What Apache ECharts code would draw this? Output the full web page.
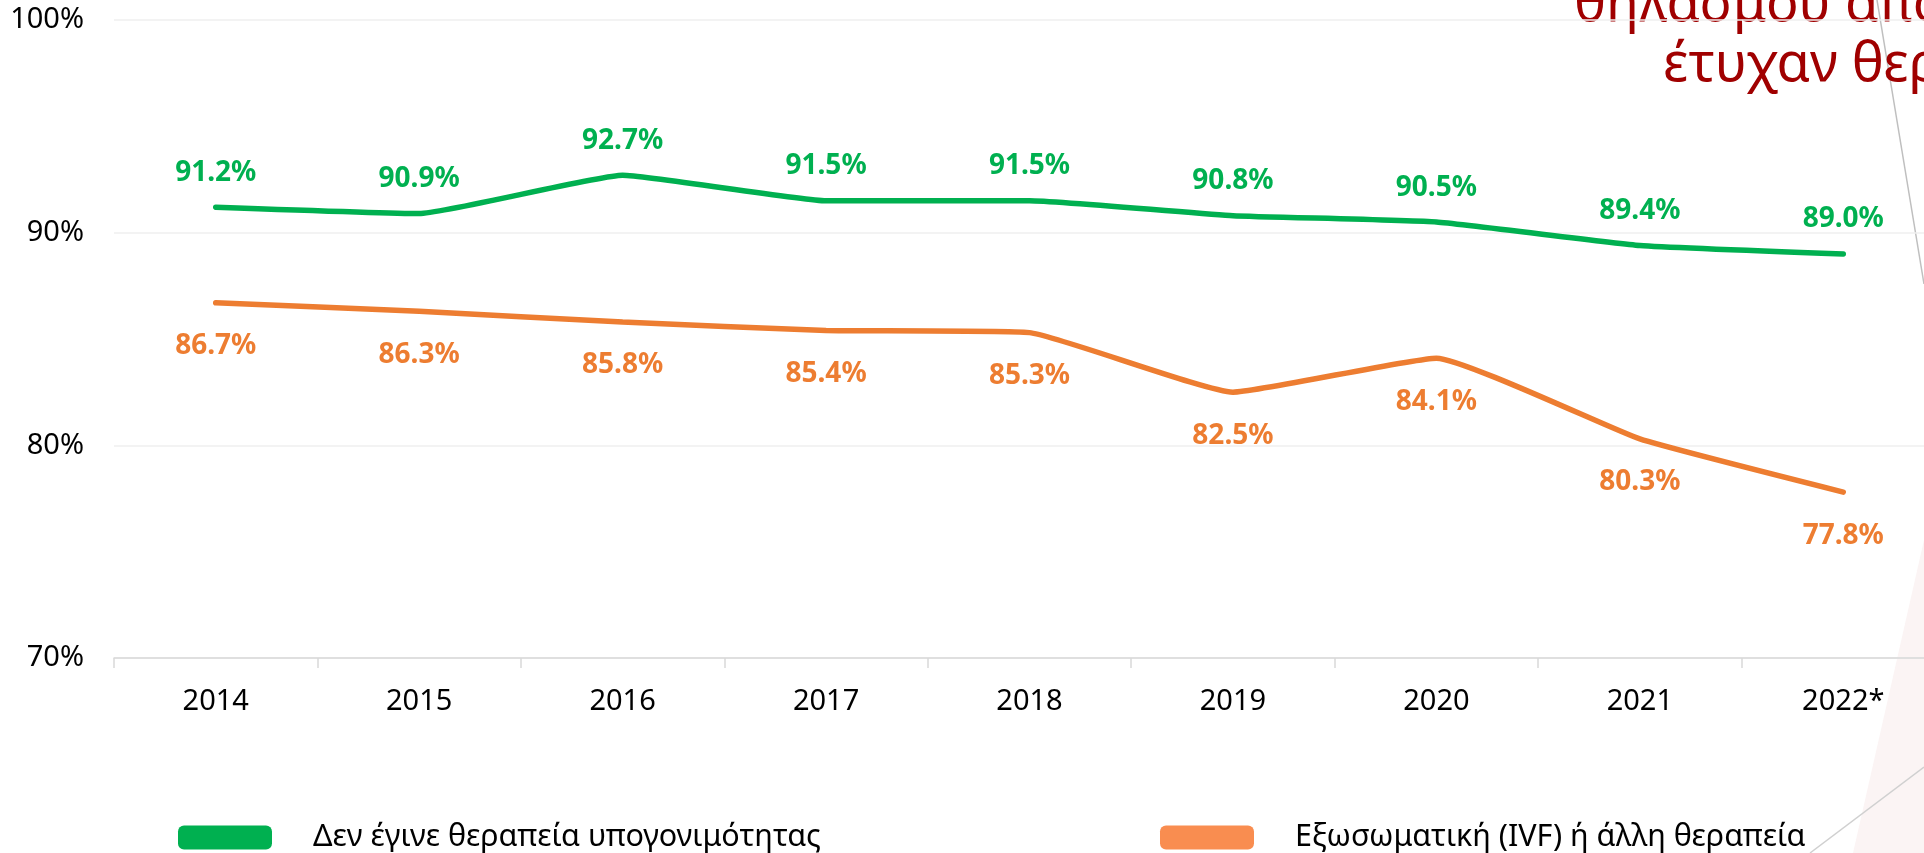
<!DOCTYPE html>
<html>
<head>
<meta charset="utf-8">
<script src="https://cdn.jsdelivr.net/npm/echarts@6/dist/echarts.min.js"></script>
<style>
  html, body { margin: 0; padding: 0; background: #fff; }
  #chart { width: 1924px; height: 853px; }
</style>
</head>
<body>
<div id="chart"></div>
<script>
(function() {
    var years = ['2014', '2015', '2016', '2017', '2018', '2019', '2020', '2021', '2022*'];
    var noTreatment = [91.2, 90.9, 92.7, 91.5, 91.5, 90.8, 90.5, 89.4, 89.0];
    var ivfTreatment = [86.7, 86.3, 85.8, 85.4, 85.3, 82.5, 84.1, 80.3, 77.8];
    var seriesNames = ['Δεν έγινε θεραπεία υπογονιμότητας', 'Εξωσωματική (IVF) ή άλλη θεραπεία'];
    var titleLines = ['θηλασμού από τις', 'έτυχαν θεραπεία'];

    var font = '"Noto Sans", sans-serif';
    var green = '#00b050';
    var orange = '#ed7d31';

    var myChart = echarts.init(document.getElementById('chart'));

    function pct(p) {
        return p.value.toFixed(1) + '%';
    }

    var option = {
        backgroundColor: '#ffffff',
        animation: false,
        grid: {
            left: 114,
            width: 1831,
            top: 20,
            bottom: 195,
            outerBoundsMode: 'none',
            containLabel: false
        },
        legend: [{
            left: 178,
            top: 822,
            padding: 0,
            itemWidth: 94,
            itemHeight: 24,
            icon: 'roundRect',
            data: [{ name: seriesNames[0], itemStyle: { color: green } }],
            textStyle: { fontFamily: font, fontSize: 30.5, color: '#000', padding: [0, 0, 0, 36] }
        }, {
            left: 1160,
            top: 822,
            padding: 0,
            itemWidth: 94,
            itemHeight: 24,
            icon: 'roundRect',
            data: [{ name: seriesNames[1], itemStyle: { color: '#f98d50' } }],
            textStyle: { fontFamily: font, fontSize: 30.5, color: '#000', padding: [0, 0, 0, 36] }
        }],
        xAxis: {
            type: 'category',
            data: years,
            boundaryGap: true,
            axisLine: { lineStyle: { color: '#d9d9d9', width: 1.5 } },
            axisTick: { show: true, length: 10, lineStyle: { color: '#d9d9d9', width: 1.5 } },
            axisLabel: { fontFamily: font, fontSize: 29, color: '#000', margin: 29 }
        },
        yAxis: {
            type: 'value',
            min: 70,
            max: 100,
            interval: 10,
            axisLine: { show: false },
            axisTick: { show: false },
            splitLine: { lineStyle: { color: '#efefef', width: 1.5 } },
            axisLabel: { fontFamily: font, fontSize: 29, color: '#000', margin: 30, formatter: '{value}%' }
        },
        series: [{
            name: seriesNames[0],
            type: 'line',
            data: noTreatment,
            smooth: 0.12,
            symbol: 'circle',
            symbolSize: 1,
            color: green,
            lineStyle: { color: green, width: 5.5, cap: 'round' },
            label: {
                show: true,
                position: 'top',
                distance: 20,
                formatter: pct,
                fontFamily: font,
                fontSize: 28,
                fontWeight: 'bold',
                color: green
            }
        }, {
            name: seriesNames[1],
            type: 'line',
            data: ivfTreatment,
            smooth: 0.12,
            symbol: 'circle',
            symbolSize: 1,
            color: orange,
            lineStyle: { color: orange, width: 5.5, cap: 'round' },
            label: {
                show: true,
                position: 'bottom',
                distance: 29,
                formatter: pct,
                fontFamily: font,
                fontSize: 28,
                fontWeight: 'bold',
                color: orange
            }
        }],
        graphic: [{
            type: 'polygon',
            z: -10,
            shape: { points: [[1924, 540], [1853, 853], [1924, 853]] },
            style: { fill: '#fbf4f4' }
        }, {
            type: 'line',
            shape: { x1: 1877, y1: 0, x2: 1924, y2: 284 },
            style: { stroke: '#bfbfbf', lineWidth: 1.5 }
        }, {
            type: 'line',
            shape: { x1: 1810, y1: 853, x2: 1924, y2: 767 },
            style: { stroke: '#d0d0d0', lineWidth: 1.5 }
        }, {
            type: 'text',
            left: 1574,
            top: -21,
            style: { text: titleLines[0], font: '54px ' + font, fill: '#a00000' }
        }, {
            type: 'text',
            left: 1663,
            top: 39,
            style: { text: titleLines[1], font: '54px ' + font, fill: '#a00000' }
        }]
    };

    myChart.setOption(option);
})();
</script>
</body>
</html>
